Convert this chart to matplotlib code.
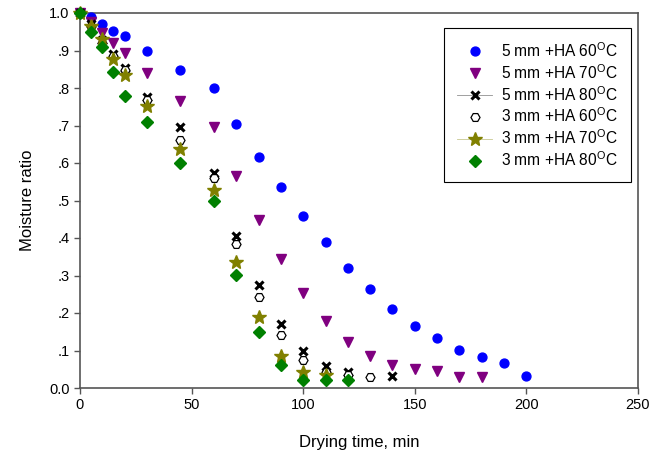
import matplotlib
matplotlib.use('Agg')
import matplotlib.pyplot as plt
from matplotlib.lines import Line2D

plt.rcParams['font.family'] = ['Liberation Sans', 'DejaVu Sans']
plt.rcParams['mathtext.fontset'] = 'custom'
plt.rcParams['mathtext.rm'] = 'Liberation Sans'
plt.rcParams['mathtext.it'] = 'Liberation Sans'

# ── Data (drying time, min / moisture ratio) ───────────────
t_5_60 = [0, 5, 10, 15, 20, 30, 45, 60, 70, 80, 90, 100, 110, 120, 130,
          140, 150, 160, 170, 180, 190, 200]
mr_5_60 = [1.0, 0.989, 0.971, 0.953, 0.939, 0.900, 0.849, 0.800, 0.704,
           0.615, 0.537, 0.459, 0.389, 0.320, 0.263, 0.211, 0.165, 0.133,
           0.102, 0.084, 0.068, 0.032]

t_5_70 = [0, 5, 10, 15, 20, 30, 45, 60, 70, 80, 90, 100, 110, 120, 130,
          140, 150, 160, 170, 180]
mr_5_70 = [1.0, 0.975, 0.948, 0.920, 0.893, 0.841, 0.766, 0.697, 0.566,
           0.447, 0.343, 0.253, 0.180, 0.124, 0.086, 0.062, 0.050, 0.046,
           0.029, 0.029]

t_5_80 = [0, 5, 10, 15, 20, 30, 45, 60, 70, 80, 90, 100, 110, 120, 140]
mr_5_80 = [1.0, 0.970, 0.929, 0.890, 0.853, 0.777, 0.697, 0.574, 0.406,
           0.274, 0.171, 0.099, 0.060, 0.042, 0.033]

t_3_60 = [0, 5, 10, 15, 20, 30, 45, 60, 70, 80, 90, 100, 110, 120, 130]
mr_3_60 = [1.0, 0.965, 0.920, 0.885, 0.848, 0.768, 0.662, 0.560, 0.384,
           0.244, 0.141, 0.075, 0.044, 0.035, 0.029]

t_3_70 = [0, 5, 10, 15, 20, 30, 45, 60, 70, 80, 90, 100, 110]
mr_3_70 = [1.0, 0.966, 0.931, 0.877, 0.835, 0.753, 0.637, 0.528, 0.336,
           0.189, 0.086, 0.043, 0.036]

t_3_80 = [0, 5, 10, 15, 20, 30, 45, 60, 70, 80, 90, 100, 110, 120]
mr_3_80 = [1.0, 0.949, 0.909, 0.842, 0.779, 0.710, 0.600, 0.500, 0.301,
           0.150, 0.061, 0.021, 0.021, 0.021]

labels = ['5 mm +HA 60$^{O}$C', '5 mm +HA 70$^{O}$C', '5 mm +HA 80$^{O}$C',
          '3 mm +HA 60$^{O}$C', '3 mm +HA 70$^{O}$C', '3 mm +HA 80$^{O}$C']

xticks = [0, 50, 100, 150, 200, 250]
yticks = [0.0, 0.1, 0.2, 0.3, 0.4, 0.5, 0.6, 0.7, 0.8, 0.9, 1.0]
yticklabels = ['0.0', '.1', '.2', '.3', '.4', '.5', '.6', '.7', '.8', '.9', '1.0']

fig = plt.figure(figsize=(6.51, 4.57), dpi=100)
ax = fig.add_axes([80/651, 1 - 388/457, (638-80)/651, (388-13)/457])

ax.plot(t_5_60, mr_5_60, ls='none', marker='o', ms=6.4, color='#0000ff',
        mec='#0000ff', clip_on=False, zorder=3)
ax.plot(t_5_70, mr_5_70, ls='none', marker='v', ms=7.5, color='#800080',
        mec='#800080', clip_on=False, zorder=3)
ax.plot(t_5_80, mr_5_80, ls='none', marker='x', ms=6, mew=2.2, color='black',
        clip_on=False, zorder=4)
ax.plot(t_3_60, mr_3_60, ls='none', marker='H', ms=6.5, mfc='white',
        mec='black', mew=0.9, clip_on=False, zorder=4)
ax.plot(t_3_70, mr_3_70, ls='none', marker='*', ms=10, color='#808000',
        mec='#808000', clip_on=False, zorder=5)
ax.plot(t_3_80, mr_3_80, ls='none', marker='D', ms=6.5, color='#008000',
        mec='#008000', clip_on=False, zorder=6)

handles = [
    Line2D([], [], ls='none', marker='o', ms=6.4, color='#0000ff'),
    Line2D([], [], ls='none', marker='v', ms=7.5, color='#800080'),
    Line2D([], [], ls='-', lw=0.6, color='#909090', marker='x', ms=6,
           mew=2.2, mec='black'),
    Line2D([], [], ls='none', marker='H', ms=6.5, mfc='white', mec='black',
           mew=0.9),
    Line2D([], [], ls='-', lw=0.6, color='#c8c890', marker='*', ms=10,
           mfc='#808000', mec='#808000'),
    Line2D([], [], ls='none', marker='D', ms=6.5, color='#008000'),
]
leg = ax.legend(handles, labels, loc='upper right',
                bbox_to_anchor=(631/651, 1 - 28/457),
                bbox_transform=fig.transFigure, fontsize=11.2, frameon=True,
                fancybox=False, edgecolor='black', framealpha=1,
                borderpad=0.85, labelspacing=0.2, handlelength=2.2,
                handletextpad=0.6, borderaxespad=0)
leg.get_frame().set_linewidth(0.8)

ax.set_xlim(0, 250)
ax.set_ylim(0, 1.0)
ax.set_xticks(xticks)
ax.set_yticks(yticks)
ax.set_yticklabels(yticklabels)
ax.tick_params(direction='out', length=4, width=1, labelsize=10.5,
               color='#555555')
for sp in ax.spines.values():
    sp.set_color('#555555')
    sp.set_linewidth(1.2)

ax.set_xlabel('Drying time, min', fontsize=12, labelpad=16)
ax.set_ylabel('Moisture ratio', fontsize=12, labelpad=10)

fig.savefig('out.png', dpi=100)
